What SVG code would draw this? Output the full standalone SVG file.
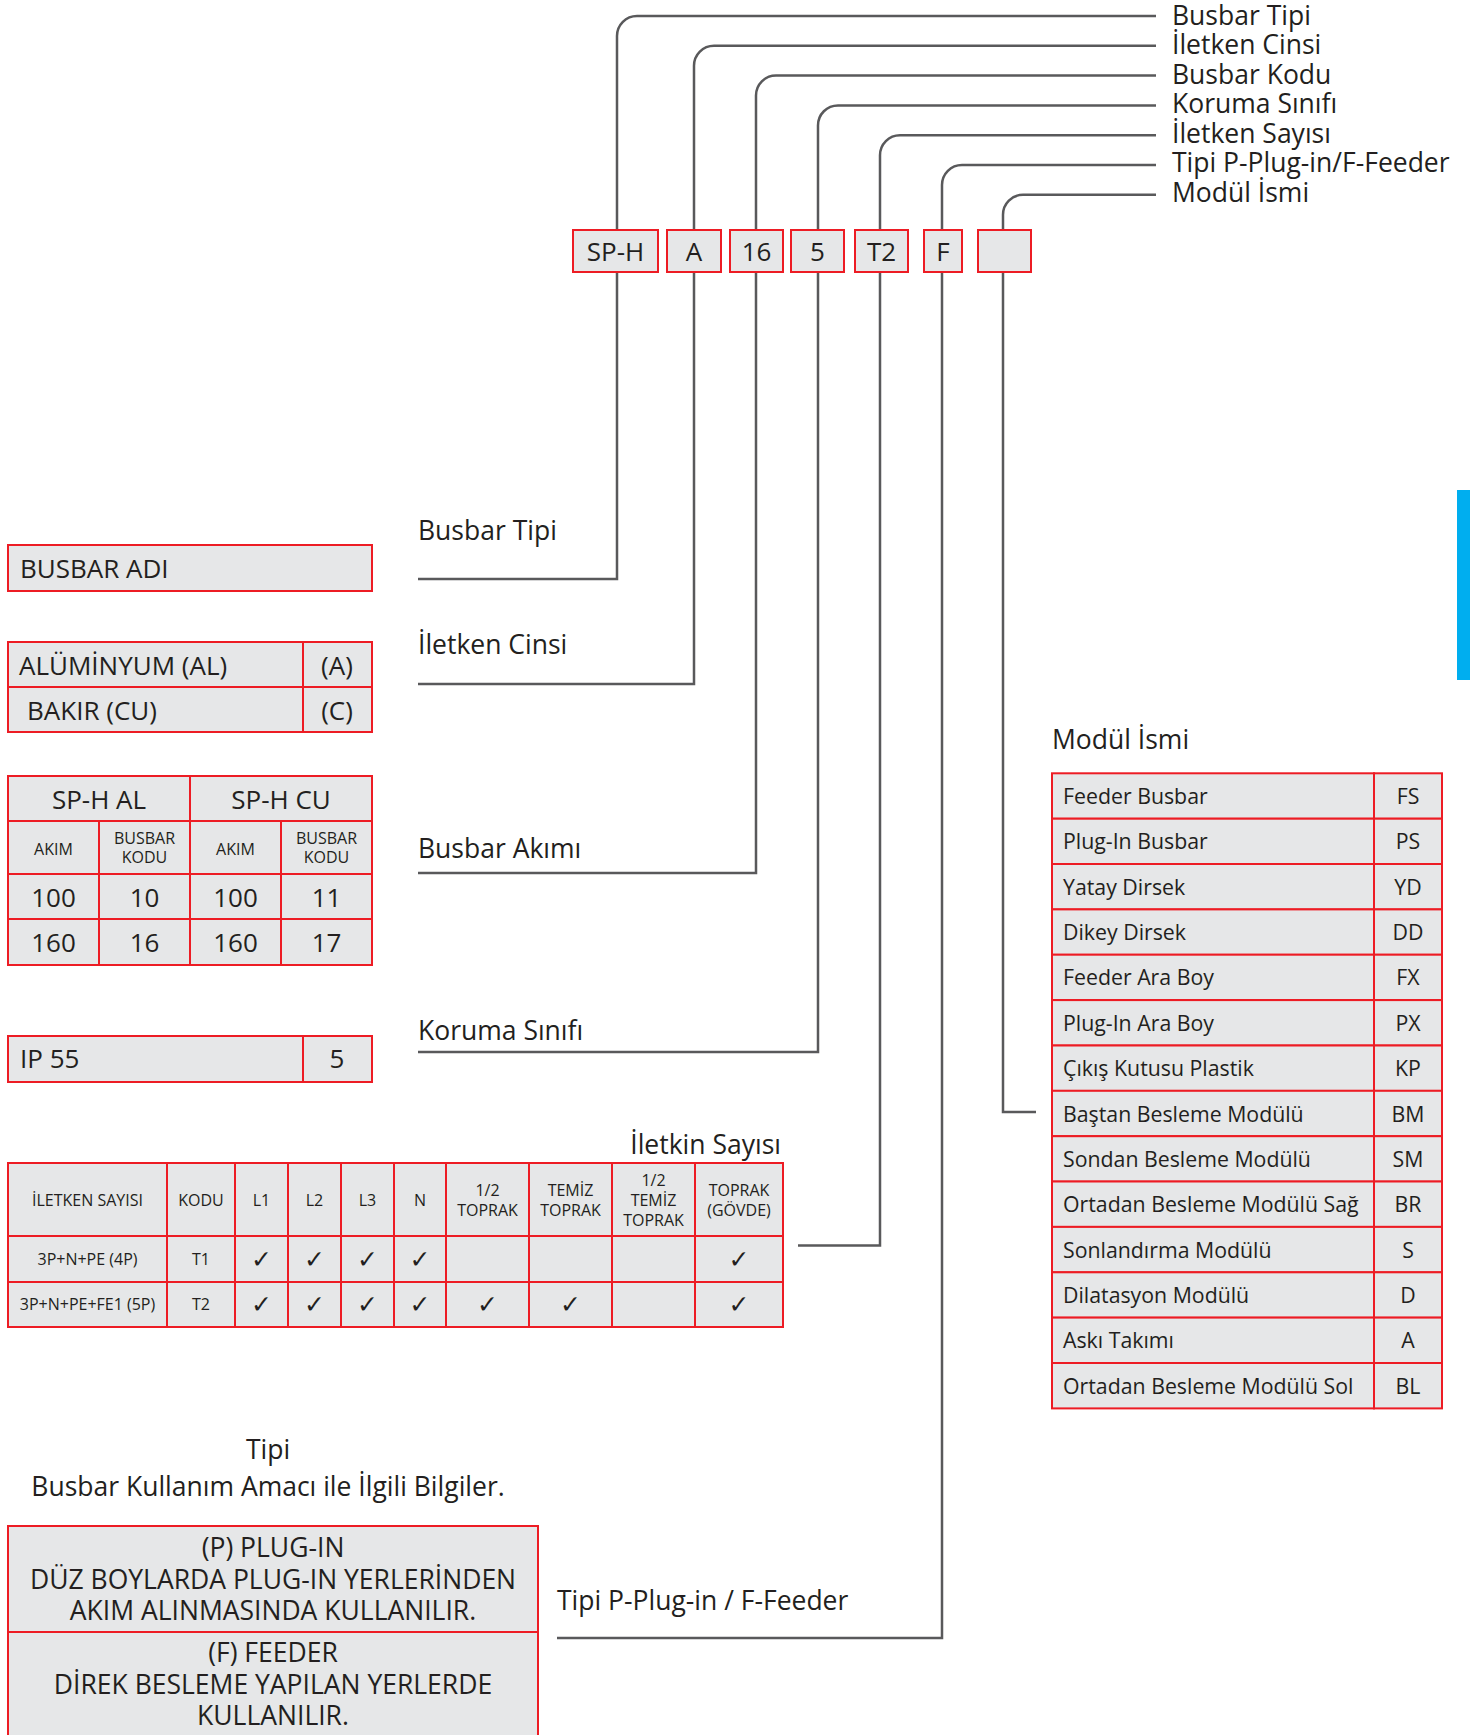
<svg xmlns="http://www.w3.org/2000/svg" width="1470" height="1735" viewBox="0 0 1470 1735">
<style>
text{font-family:"Open Sans","Liberation Sans",sans-serif;fill:#231f20}
.lbl{font-size:26.5px}
.big{font-size:26px}
.bot{font-size:26.5px}
.sm{font-size:16px}
.md{font-size:21.3px}
.mid{text-anchor:middle}
.cell{fill:#e6e7e8;stroke:#ed1c24;stroke-width:2}
.ck{font-family:"DejaVu Sans",sans-serif;font-size:25px;text-anchor:middle;font-weight:bold}
.conn{fill:none;stroke:#59595b;stroke-width:2.5}
</style>
<rect width="1470" height="1735" fill="#ffffff"/>

<g id="connectors">
<path class="conn" d="M617,230 V36 A20,20 0 0 1 637,16 H1156"/>
<path class="conn" d="M694,230 V65.8 A20,20 0 0 1 714,45.8 H1156"/>
<path class="conn" d="M756,230 V95.6 A20,20 0 0 1 776,75.6 H1156"/>
<path class="conn" d="M818,230 V125.4 A20,20 0 0 1 838,105.4 H1156"/>
<path class="conn" d="M880,230 V155.2 A20,20 0 0 1 900,135.2 H1156"/>
<path class="conn" d="M942,230 V185 A20,20 0 0 1 962,165 H1156"/>
<path class="conn" d="M1003,230 V214.8 A20,20 0 0 1 1023,194.8 H1156"/>
<path class="conn" d="M617,272 V579 H418"/>
<path class="conn" d="M694,272 V684 H418"/>
<path class="conn" d="M756,272 V873 H418"/>
<path class="conn" d="M818,272 V1052 H418"/>
<path class="conn" d="M880,272 V1245.5 H798"/>
<path class="conn" d="M942,272 V1638 H557"/>
<path class="conn" d="M1003,272 V1112 H1036"/>
</g>

<g id="top-labels">
<text class="lbl" x="1172" y="24.5">Busbar Tipi</text>
<text class="lbl" x="1172" y="54">İletken Cinsi</text>
<text class="lbl" x="1172" y="83.5">Busbar Kodu</text>
<text class="lbl" x="1172" y="113">Koruma Sınıfı</text>
<text class="lbl" x="1172" y="142.5">İletken Sayısı</text>
<text class="lbl" x="1172" y="172">Tipi P-Plug-in/F-Feeder</text>
<text class="lbl" x="1172" y="201.5">Modül İsmi</text>
</g>

<g id="code-boxes">
<g id="box-sph"><rect class="cell" x="573" y="230" width="85" height="42"/><text class="big mid" x="615.5" y="261">SP-H</text></g>
<g id="box-a"><rect class="cell" x="667" y="230" width="54" height="42"/><text class="big mid" x="694" y="261">A</text></g>
<g id="box-16"><rect class="cell" x="730" y="230" width="53" height="42"/><text class="big mid" x="756.5" y="261">16</text></g>
<g id="box-5"><rect class="cell" x="791" y="230" width="53" height="42"/><text class="big mid" x="817.5" y="261">5</text></g>
<g id="box-t2"><rect class="cell" x="855" y="230" width="53" height="42"/><text class="big mid" x="881.5" y="261">T2</text></g>
<g id="box-f"><rect class="cell" x="924" y="230" width="38" height="42"/><text class="big mid" x="943" y="261">F</text></g>
<g id="box-empty"><rect class="cell" x="978" y="230" width="53" height="42"/></g>
</g>

<g id="mid-labels">
<text class="lbl" x="418" y="540">Busbar Tipi</text>
<text class="lbl" x="418" y="653.5">İletken Cinsi</text>
<text class="lbl" x="418" y="858">Busbar Akımı</text>
<text class="lbl" x="418" y="1040">Koruma Sınıfı</text>
<text class="lbl" x="781" y="1154" text-anchor="end">İletkin Sayısı</text>
<text class="lbl" x="1052" y="749">Modül İsmi</text>
<text class="lbl" x="557" y="1610">Tipi P-Plug-in / F-Feeder</text>
<text class="lbl mid" x="268" y="1459">Tipi</text>
<text class="lbl mid" x="268" y="1496">Busbar Kullanım Amacı ile İlgili Bilgiler.</text>
</g>

<g id="busbar-adi">
<rect class="cell" x="8" y="545" width="364" height="46"/>
<text class="big" x="20" y="578">BUSBAR ADI</text>
</g>

<g id="iletken-cinsi-table">
<rect class="cell" x="8" y="642" width="295" height="45"/>
<rect class="cell" x="303" y="642" width="69" height="45"/>
<rect class="cell" x="8" y="687" width="295" height="45"/>
<rect class="cell" x="303" y="687" width="69" height="45"/>
<text class="big" x="19" y="675">ALÜMİNYUM (AL)</text>
<text class="big mid" x="337" y="675">(A)</text>
<text class="big" x="27" y="720">BAKIR (CU)</text>
<text class="big mid" x="337" y="720">(C)</text>
</g>

<g id="akim-table">
<rect class="cell" x="8" y="776" width="182" height="45"/>
<rect class="cell" x="190" y="776" width="182" height="45"/>
<rect class="cell" x="8" y="821" width="91" height="53"/>
<rect class="cell" x="99" y="821" width="91" height="53"/>
<rect class="cell" x="190" y="821" width="91" height="53"/>
<rect class="cell" x="281" y="821" width="91" height="53"/>
<rect class="cell" x="8" y="874" width="91" height="45"/>
<rect class="cell" x="99" y="874" width="91" height="45"/>
<rect class="cell" x="190" y="874" width="91" height="45"/>
<rect class="cell" x="281" y="874" width="91" height="45"/>
<rect class="cell" x="8" y="919" width="91" height="46"/>
<rect class="cell" x="99" y="919" width="91" height="46"/>
<rect class="cell" x="190" y="919" width="91" height="46"/>
<rect class="cell" x="281" y="919" width="91" height="46"/>
<text class="big mid" x="99" y="809">SP-H AL</text>
<text class="big mid" x="281" y="809">SP-H CU</text>
<text class="sm mid" x="53.5" y="855">AKIM</text>
<text class="sm mid" x="144.5" y="844">BUSBAR</text>
<text class="sm mid" x="144.5" y="863">KODU</text>
<text class="sm mid" x="235.5" y="855">AKIM</text>
<text class="sm mid" x="326.5" y="844">BUSBAR</text>
<text class="sm mid" x="326.5" y="863">KODU</text>
<text class="big mid" x="53.5" y="907">100</text>
<text class="big mid" x="144.5" y="907">10</text>
<text class="big mid" x="235.5" y="907">100</text>
<text class="big mid" x="326.5" y="907">11</text>
<text class="big mid" x="53.5" y="952">160</text>
<text class="big mid" x="144.5" y="952">16</text>
<text class="big mid" x="235.5" y="952">160</text>
<text class="big mid" x="326.5" y="952">17</text>
</g>

<g id="ip-table">
<rect class="cell" x="8" y="1036" width="295" height="46"/>
<rect class="cell" x="303" y="1036" width="69" height="46"/>
<text class="big" x="20" y="1068">IP 55</text>
<text class="big mid" x="337" y="1068">5</text>
</g>

<g id="iletken-sayisi-table">
<rect class="cell" x="8" y="1163" width="159" height="73"/>
<rect class="cell" x="167" y="1163" width="68" height="73"/>
<rect class="cell" x="235" y="1163" width="53" height="73"/>
<rect class="cell" x="288" y="1163" width="53" height="73"/>
<rect class="cell" x="341" y="1163" width="53" height="73"/>
<rect class="cell" x="394" y="1163" width="52" height="73"/>
<rect class="cell" x="446" y="1163" width="83" height="73"/>
<rect class="cell" x="529" y="1163" width="83" height="73"/>
<rect class="cell" x="612" y="1163" width="83" height="73"/>
<rect class="cell" x="695" y="1163" width="88" height="73"/>
<rect class="cell" x="8" y="1236" width="159" height="46"/>
<rect class="cell" x="167" y="1236" width="68" height="46"/>
<rect class="cell" x="235" y="1236" width="53" height="46"/>
<rect class="cell" x="288" y="1236" width="53" height="46"/>
<rect class="cell" x="341" y="1236" width="53" height="46"/>
<rect class="cell" x="394" y="1236" width="52" height="46"/>
<rect class="cell" x="446" y="1236" width="83" height="46"/>
<rect class="cell" x="529" y="1236" width="83" height="46"/>
<rect class="cell" x="612" y="1236" width="83" height="46"/>
<rect class="cell" x="695" y="1236" width="88" height="46"/>
<rect class="cell" x="8" y="1282" width="159" height="45"/>
<rect class="cell" x="167" y="1282" width="68" height="45"/>
<rect class="cell" x="235" y="1282" width="53" height="45"/>
<rect class="cell" x="288" y="1282" width="53" height="45"/>
<rect class="cell" x="341" y="1282" width="53" height="45"/>
<rect class="cell" x="394" y="1282" width="52" height="45"/>
<rect class="cell" x="446" y="1282" width="83" height="45"/>
<rect class="cell" x="529" y="1282" width="83" height="45"/>
<rect class="cell" x="612" y="1282" width="83" height="45"/>
<rect class="cell" x="695" y="1282" width="88" height="45"/>
<text class="sm mid" x="87.5" y="1206">İLETKEN SAYISI</text>
<text class="sm mid" x="201" y="1206">KODU</text>
<text class="sm mid" x="261.5" y="1206">L1</text>
<text class="sm mid" x="314.5" y="1206">L2</text>
<text class="sm mid" x="367.5" y="1206">L3</text>
<text class="sm mid" x="420" y="1206">N</text>
<text class="sm mid" x="487.5" y="1196">1/2</text>
<text class="sm mid" x="487.5" y="1216">TOPRAK</text>
<text class="sm mid" x="570.5" y="1196">TEMİZ</text>
<text class="sm mid" x="570.5" y="1216">TOPRAK</text>
<text class="sm mid" x="653.5" y="1186">1/2</text>
<text class="sm mid" x="653.5" y="1206">TEMİZ</text>
<text class="sm mid" x="653.5" y="1226">TOPRAK</text>
<text class="sm mid" x="739" y="1196">TOPRAK</text>
<text class="sm mid" x="739" y="1216">(GÖVDE)</text>
<text class="sm mid" x="87.5" y="1265">3P+N+PE (4P)</text>
<text class="sm mid" x="201" y="1265">T1</text>
<text class="ck" x="261.5" y="1268">✓</text>
<text class="ck" x="314.5" y="1268">✓</text>
<text class="ck" x="367.5" y="1268">✓</text>
<text class="ck" x="420" y="1268">✓</text>
<text class="ck" x="739" y="1268">✓</text>
<text class="sm mid" x="87.5" y="1310">3P+N+PE+FE1 (5P)</text>
<text class="sm mid" x="201" y="1310">T2</text>
<text class="ck" x="261.5" y="1313">✓</text>
<text class="ck" x="314.5" y="1313">✓</text>
<text class="ck" x="367.5" y="1313">✓</text>
<text class="ck" x="420" y="1313">✓</text>
<text class="ck" x="487.5" y="1313">✓</text>
<text class="ck" x="570.5" y="1313">✓</text>
<text class="ck" x="739" y="1313">✓</text>
</g>

<g id="modul-table">
<rect class="cell" x="1052" y="773.3" width="322" height="45.4"/><rect class="cell" x="1374" y="773.3" width="68" height="45.4"/>
<rect class="cell" x="1052" y="818.7" width="322" height="45.4"/><rect class="cell" x="1374" y="818.7" width="68" height="45.4"/>
<rect class="cell" x="1052" y="864" width="322" height="45.4"/><rect class="cell" x="1374" y="864" width="68" height="45.4"/>
<rect class="cell" x="1052" y="909.4" width="322" height="45.4"/><rect class="cell" x="1374" y="909.4" width="68" height="45.4"/>
<rect class="cell" x="1052" y="954.7" width="322" height="45.4"/><rect class="cell" x="1374" y="954.7" width="68" height="45.4"/>
<rect class="cell" x="1052" y="1000.1" width="322" height="45.4"/><rect class="cell" x="1374" y="1000.1" width="68" height="45.4"/>
<rect class="cell" x="1052" y="1045.5" width="322" height="45.4"/><rect class="cell" x="1374" y="1045.5" width="68" height="45.4"/>
<rect class="cell" x="1052" y="1090.8" width="322" height="45.4"/><rect class="cell" x="1374" y="1090.8" width="68" height="45.4"/>
<rect class="cell" x="1052" y="1136.2" width="322" height="45.4"/><rect class="cell" x="1374" y="1136.2" width="68" height="45.4"/>
<rect class="cell" x="1052" y="1181.5" width="322" height="45.4"/><rect class="cell" x="1374" y="1181.5" width="68" height="45.4"/>
<rect class="cell" x="1052" y="1226.9" width="322" height="45.4"/><rect class="cell" x="1374" y="1226.9" width="68" height="45.4"/>
<rect class="cell" x="1052" y="1272.3" width="322" height="45.4"/><rect class="cell" x="1374" y="1272.3" width="68" height="45.4"/>
<rect class="cell" x="1052" y="1317.6" width="322" height="45.4"/><rect class="cell" x="1374" y="1317.6" width="68" height="45.4"/>
<rect class="cell" x="1052" y="1363" width="322" height="45.4"/><rect class="cell" x="1374" y="1363" width="68" height="45.4"/>
<text class="md" x="1063" y="804">Feeder Busbar</text><text class="md mid" x="1408" y="804">FS</text>
<text class="md" x="1063" y="849.4">Plug-In Busbar</text><text class="md mid" x="1408" y="849.4">PS</text>
<text class="md" x="1063" y="894.7">Yatay Dirsek</text><text class="md mid" x="1408" y="894.7">YD</text>
<text class="md" x="1063" y="940.1">Dikey Dirsek</text><text class="md mid" x="1408" y="940.1">DD</text>
<text class="md" x="1063" y="985.4">Feeder Ara Boy</text><text class="md mid" x="1408" y="985.4">FX</text>
<text class="md" x="1063" y="1030.8">Plug-In Ara Boy</text><text class="md mid" x="1408" y="1030.8">PX</text>
<text class="md" x="1063" y="1076.2">Çıkış Kutusu Plastik</text><text class="md mid" x="1408" y="1076.2">KP</text>
<text class="md" x="1063" y="1121.5">Baştan Besleme Modülü</text><text class="md mid" x="1408" y="1121.5">BM</text>
<text class="md" x="1063" y="1166.9">Sondan Besleme Modülü</text><text class="md mid" x="1408" y="1166.9">SM</text>
<text class="md" x="1063" y="1212.2">Ortadan Besleme Modülü Sağ</text><text class="md mid" x="1408" y="1212.2">BR</text>
<text class="md" x="1063" y="1257.6">Sonlandırma Modülü</text><text class="md mid" x="1408" y="1257.6">S</text>
<text class="md" x="1063" y="1303">Dilatasyon Modülü</text><text class="md mid" x="1408" y="1303">D</text>
<text class="md" x="1063" y="1348.3">Askı Takımı</text><text class="md mid" x="1408" y="1348.3">A</text>
<text class="md" x="1063" y="1393.7">Ortadan Besleme Modülü Sol</text><text class="md mid" x="1408" y="1393.7">BL</text>
</g>

<g id="tipi-table">
<rect class="cell" x="8" y="1526" width="530" height="106"/>
<rect class="cell" x="8" y="1632" width="530" height="112"/>
<text class="bot mid" x="273" y="1557">(P) PLUG-IN</text>
<text class="bot mid" x="273" y="1588.5">DÜZ BOYLARDA PLUG-IN YERLERİNDEN</text>
<text class="bot mid" x="273" y="1620">AKIM ALINMASINDA KULLANILIR.</text>
<text class="bot mid" x="273" y="1662">(F) FEEDER</text>
<text class="bot mid" x="273" y="1694">DİREK BESLEME YAPILAN YERLERDE</text>
<text class="bot mid" x="273" y="1725">KULLANILIR.</text>
</g>

<g id="side-tab">
<rect x="1457" y="490" width="14" height="190" fill="#00aeef"/>
</g>
</svg>
